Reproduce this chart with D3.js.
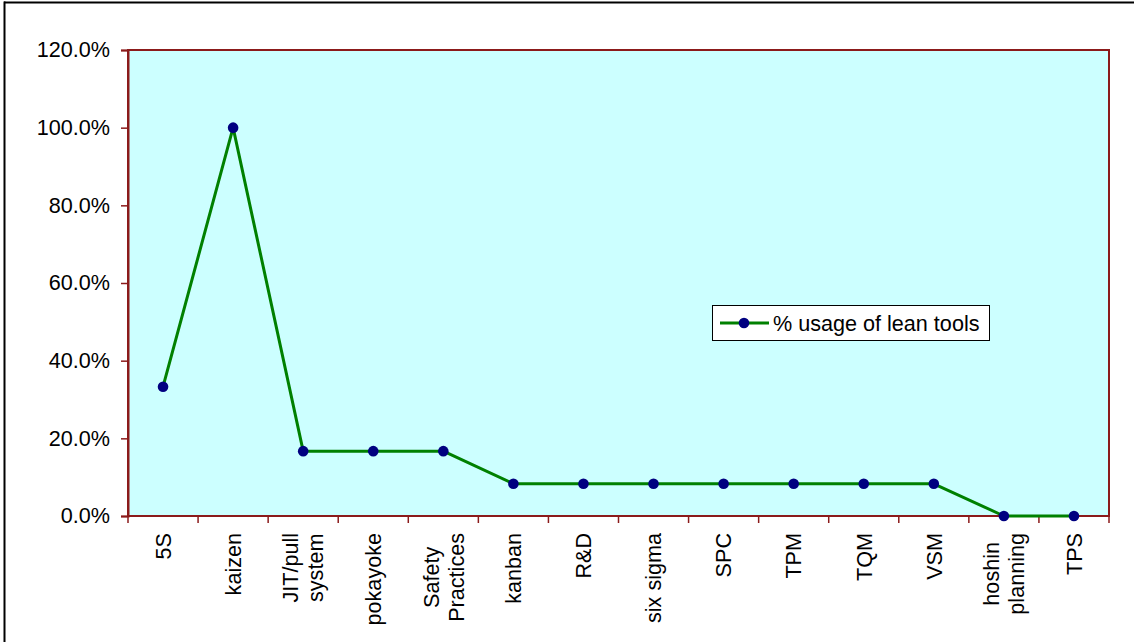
<!DOCTYPE html>
<html>
<head>
<meta charset="utf-8">
<script src="https://cdn.jsdelivr.net/npm/d3@7"></script>
<style>
  html, body { margin: 0; padding: 0; background: #fff; }
  svg { display: block; font-family: "Liberation Sans", Arial, sans-serif; }
</style>
</head>
<body>
<svg id="chart" width="1134" height="642"></svg>
<script>
// Lean tools and the share of respondents using each one
const categories = [
  ["5S"], ["kaizen"], ["JIT/pull", "system"], ["pokayoke"], ["Safety", "Practices"],
  ["kanban"], ["R&D"], ["six sigma"], ["SPC"], ["TPM"], ["TQM"], ["VSM"],
  ["hoshin", "planning"], ["TPS"]
];
const usage = [0.333, 1.0, 0.167, 0.167, 0.167, 0.083, 0.083, 0.083, 0.083, 0.083, 0.083, 0.083, 0.0, 0.0];
const yTicks = [0, 0.2, 0.4, 0.6, 0.8, 1.0, 1.2];
const seriesName = "% usage of lean tools";

const svg = d3.select("#chart");
const plot = { left: 128, right: 1109, top: 50, bottom: 516 };
const axisColor = "#8B1A1A";
const fontSize = 21.6;

// Outer frame (left and top edges)
svg.append("line").attr("x1", 4.5).attr("x2", 4.5).attr("y1", 1.5).attr("y2", 642)
  .attr("stroke", "#000").attr("stroke-width", 2);
svg.append("line").attr("x1", 4).attr("x2", 1134).attr("y1", 2.5).attr("y2", 2.5)
  .attr("stroke", "#000").attr("stroke-width", 2);

const keys = categories.map(c => c.join(" "));
const x = d3.scaleBand().domain(keys).range([plot.left, plot.right]).padding(0);
const y = d3.scaleLinear().domain([0, 1.2]).range([plot.bottom, plot.top]);

// Plot area
svg.append("rect")
  .attr("x", plot.left).attr("y", plot.top)
  .attr("width", plot.right - plot.left).attr("height", plot.bottom - plot.top)
  .attr("fill", "#CCFFFF").attr("stroke", axisColor).attr("stroke-width", 2);

// Y axis
const yAxis = svg.append("g").attr("transform", `translate(${plot.left},0)`)
  .call(d3.axisLeft(y).tickValues(yTicks).tickFormat(d3.format(".1%")).tickSize(7).tickPadding(11));
yAxis.select(".domain").attr("stroke", axisColor).attr("stroke-width", 2);
yAxis.selectAll(".tick line").attr("stroke", axisColor).attr("stroke-width", 1.5);
yAxis.selectAll(".tick text").attr("font-size", fontSize).attr("fill", "#000")
  .attr("font-family", "Liberation Sans, Arial, sans-serif");

// X axis: ticks on the category boundaries
const xAxisG = svg.append("g");
xAxisG.append("line").attr("x1", plot.left).attr("x2", plot.right)
  .attr("y1", plot.bottom).attr("y2", plot.bottom).attr("stroke", axisColor).attr("stroke-width", 2);
const bounds = keys.map(k => x(k)).concat([x(keys[keys.length - 1]) + x.bandwidth()]);
xAxisG.selectAll("line.tick").data(bounds).enter().append("line").attr("class", "tick")
  .attr("x1", d => d).attr("x2", d => d)
  .attr("y1", plot.bottom).attr("y2", plot.bottom + 7)
  .attr("stroke", axisColor).attr("stroke-width", 1.5);

// Rotated category labels, lines centred on each other, longest line ending at a fixed offset
const labelTop = 533;
const lineGap = 25;
categories.forEach((lines, i) => {
  const cx = x(keys[i]) + x.bandwidth() / 2;
  const g = svg.append("g");
  const texts = lines.map((t, j) => g.append("text").text(t)
    .attr("font-size", fontSize).attr("fill", "#000")
    .attr("text-anchor", "middle"));
  const maxLen = d3.max(texts, t => t.node().getComputedTextLength());
  const cy = labelTop + maxLen / 2;
  const n = lines.length;
  texts.forEach((t, j) => {
    const off = (j - (n - 1) / 2) * lineGap;
    const px = cx + off + fontSize * 0.36;
    t.attr("transform", `translate(${px},${cy}) rotate(-90)`);
  });
});

// Series line and markers
const pts = usage.map((v, i) => [x(keys[i]) + x.bandwidth() / 2, y(v)]);
svg.append("path").attr("d", d3.line()(pts))
  .attr("fill", "none").attr("stroke", "#008000").attr("stroke-width", 3)
  .attr("stroke-linejoin", "round");
svg.selectAll("circle.pt").data(pts).enter().append("circle").attr("class", "pt")
  .attr("cx", d => d[0]).attr("cy", d => d[1]).attr("r", 5.3).attr("fill", "#000080");

// Legend
const lg = svg.append("g").attr("transform", "translate(712,305)");
lg.append("rect").attr("x", 0.5).attr("y", 0.5).attr("width", 277).attr("height", 35)
  .attr("fill", "#fff").attr("stroke", "#000").attr("stroke-width", 1);
lg.append("line").attr("x1", 8).attr("x2", 57).attr("y1", 18).attr("y2", 18)
  .attr("stroke", "#008000").attr("stroke-width", 3);
lg.append("circle").attr("cx", 32).attr("cy", 18).attr("r", 5.3).attr("fill", "#000080");
lg.append("text").attr("x", 61).attr("y", 25.5).attr("font-size", fontSize).attr("fill", "#000")
  .text(seriesName);
</script>
</body>
</html>
